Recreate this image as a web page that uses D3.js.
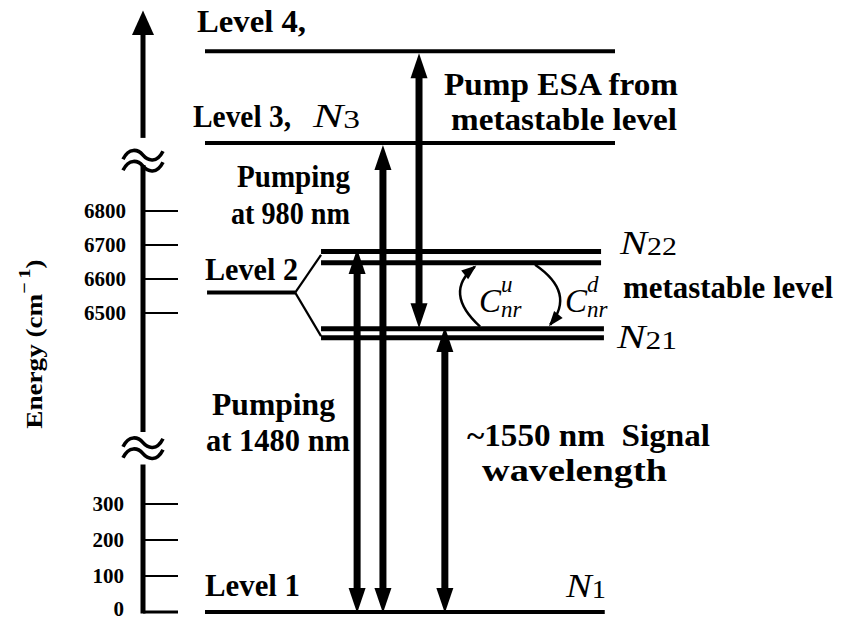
<!DOCTYPE html>
<html>
<head>
<meta charset="utf-8">
<script src="https://cdn.jsdelivr.net/npm/d3@7"></script>
<style>
  body { margin: 0; background: #fff; }
  svg { display: block; }
  text { font-family: "Liberation Serif", "Times New Roman", serif; fill: #000; }
  .bold { font-weight: bold; }
</style>
</head>
<body>
<svg id="chart" width="844" height="620"></svg>
<script>
// energy axis ticks (cm^-1), split by two axis breaks
var upperTicks = [6500, 6600, 6700, 6800];
var lowerTicks = [0, 100, 200, 300];

// levels (level 3 and 4 sit above the break, schematic positions)
var levelNames = ["Level 1", "Level 2", "Level 3", "Level 4"];
var levelEnergy = [0, 6560, 7000, 7270];

// Stark split of level 2
var n22Energy = [6681, 6648];
var n21Energy = [6454, 6427];

// transitions: column (schematic x units), lower and upper tip energies
var transitionNames = ["Pumping at 1480 nm", "Pumping at 980 nm", "Pump ESA", "Signal"];
var transitionCol = [37.1, 43.4, 52.2, 58.5];
var transitionLow = [0, 0, 6455, 0];
var transitionHigh = [6694, 7000, 7270, 6465];

var svg = d3.select("#chart");

var x = d3.scaleLinear().domain([0, 100]).range([205, 615]);
var yUp = d3.scaleLinear().domain([6500, 6800]).range([313, 211]);
var yLow = d3.scaleLinear().domain([0, 300]).range([612, 504]);
function y(e) { return e >= 1000 ? yUp(e) : yLow(e); }

var axisX = 143;

////
//// energy axis with breaks
////
var ax = svg.append("g");

// top segment with arrow
ax.append("line").attr("x1", axisX).attr("x2", axisX)
  .attr("y1", yUp(7330)).attr("y2", yUp(7015))
  .attr("stroke", "#000").attr("stroke-width", 5);
ax.append("path")
  .attr("d", "M" + axisX + "," + yUp(7390) + "L" + (axisX - 11) + "," + yUp(7318) + "L" + (axisX + 11) + "," + yUp(7318) + "Z")
  .attr("fill", "#000");

// middle + lower segments
ax.append("line").attr("x1", axisX).attr("x2", axisX)
  .attr("y1", yUp(6935)).attr("y2", yUp(6150))
  .attr("stroke", "#000").attr("stroke-width", 5);
ax.append("line").attr("x1", axisX).attr("x2", axisX)
  .attr("y1", yLow(410)).attr("y2", yLow(0) + 1.5)
  .attr("stroke", "#000").attr("stroke-width", 5);

// break marks
function tilde(cx, cy) {
  return "M" + (cx - 20) + "," + (cy + 4) +
    "C" + (cx - 14) + "," + (cy - 8) + " " + (cx - 5) + "," + (cy - 6) + " " + cx + "," + cy +
    "C" + (cx + 5) + "," + (cy + 6) + " " + (cx + 14) + "," + (cy + 8) + " " + (cx + 20) + "," + (cy - 4);
}
[yUp(6948), (yUp(6150) + yLow(410)) / 2].forEach(function(cy) {
  ax.append("path").attr("d", tilde(axisX, cy - 5.5) + tilde(axisX, cy + 5.5))
    .attr("fill", "none").attr("stroke", "#000").attr("stroke-width", 3.6);
});

// ticks
var tickLen = 35;
ax.selectAll(".tu").data(upperTicks).enter().append("line")
  .attr("x1", axisX).attr("x2", axisX + tickLen)
  .attr("y1", yUp).attr("y2", yUp)
  .attr("stroke", "#000").attr("stroke-width", 2);
ax.selectAll(".tl").data(lowerTicks).enter().append("line")
  .attr("x1", axisX).attr("x2", axisX + tickLen)
  .attr("y1", yLow).attr("y2", yLow)
  .attr("stroke", "#000").attr("stroke-width", function(d) { return d === 0 ? 3 : 2; });

ax.selectAll(".lu").data(upperTicks).enter().append("text")
  .attr("class", "bold").attr("x", 126).attr("y", yUp).attr("dy", "0.35em")
  .attr("text-anchor", "end").attr("font-size", 21).text(function(d) { return d; });
ax.selectAll(".ll").data(lowerTicks).enter().append("text")
  .attr("class", "bold").attr("x", 124).attr("y", function(d) { return d === 0 ? yLow(d) - 3 : yLow(d); })
  .attr("dy", "0.35em")
  .attr("text-anchor", "end").attr("font-size", 21).text(function(d) { return d; });

var yl = ax.append("text").attr("class", "bold")
  .attr("transform", "translate(42,344) rotate(-90) scale(1.18,1)")
  .attr("text-anchor", "middle").attr("font-size", 23);
yl.append("tspan").text("Energy (cm");
yl.append("tspan").attr("dy", -12).attr("font-size", 17).text("\u2212\u20091");
yl.append("tspan").attr("dy", 12).text(")");

////
//// energy levels
////
var lv = svg.append("g");
function hline(x1, x2, e, w) {
  lv.append("line").attr("x1", x1).attr("x2", x2).attr("y1", y(e)).attr("y2", y(e))
    .attr("stroke", "#000").attr("stroke-width", w);
}
hline(x(0), x(100), levelEnergy[3], 4);
hline(x(0), x(100), levelEnergy[2], 4);
hline(x(0), x(97.5), levelEnergy[0], 4);
hline(x(0.5), x(22), levelEnergy[1], 4);

n22Energy.forEach(function(e) { hline(x(28.3), x(96.6), e, 5); });
n21Energy.forEach(function(e) { hline(x(28.3), x(97.3), e, 5); });

// splitting lines
var split = d3.line();
lv.append("path").attr("d", split([[x(22), y(levelEnergy[1])], [x(28.3), y(n22Energy[0] - 10)]]))
  .attr("stroke", "#000").attr("stroke-width", 2.2).attr("fill", "none");
lv.append("path").attr("d", split([[x(22), y(levelEnergy[1])], [x(28.3), y(n21Energy[1] + 5)]]))
  .attr("stroke", "#000").attr("stroke-width", 2.2).attr("fill", "none");

////
//// transitions (double-headed arrows)
////
var headL = 25, headW = 8.5;
var tr = svg.append("g");
transitionNames.forEach(function(name, i) {
  var cx = x(transitionCol[i]);
  var yb = y(transitionLow[i]) + (transitionLow[i] === 0 ? 1 : 0);
  var yt = y(transitionHigh[i]) + 2;
  tr.append("line").attr("x1", cx).attr("x2", cx)
    .attr("y1", yt + headL - 2).attr("y2", yb - headL + 2)
    .attr("stroke", "#000").attr("stroke-width", 7);
  tr.append("path")
    .attr("d", "M" + cx + "," + yt + "L" + (cx - headW) + "," + (yt + headL) + "L" + (cx + headW) + "," + (yt + headL) + "Z")
    .attr("fill", "#000");
  tr.append("path")
    .attr("d", "M" + cx + "," + yb + "L" + (cx - headW) + "," + (yb - headL) + "L" + (cx + headW) + "," + (yb - headL) + "Z")
    .attr("fill", "#000");
});

// non-radiative curved arrows between N21 and N22
function curved(p0, c, p1) {
  tr.append("path").attr("d", "M" + p0[0] + "," + p0[1] + "Q" + c[0] + "," + c[1] + " " + p1[0] + "," + p1[1])
    .attr("fill", "none").attr("stroke", "#000").attr("stroke-width", 2.5);
  var ang = Math.atan2(p1[1] - c[1], p1[0] - c[0]);
  var L = 13, W = 5.5;
  var bx = p1[0] - L * Math.cos(ang), by = p1[1] - L * Math.sin(ang);
  var nx = -Math.sin(ang) * W, ny = Math.cos(ang) * W;
  tr.append("path")
    .attr("d", "M" + (p1[0] + 2 * Math.cos(ang)) + "," + (p1[1] + 2 * Math.sin(ang)) +
      "L" + (bx + nx) + "," + (by + ny) + "L" + (bx - nx) + "," + (by - ny) + "Z")
    .attr("fill", "#000");
}
curved([x(67.1), y(n21Energy[0]) - 2], [x(58), y(6560)], [x(65.8), y(n22Energy[1]) + 4]);
curved([x(80.5), y(n22Energy[1]) + 2], [x(90.5), y(6560)], [x(84.2), y(n21Energy[0]) - 4]);

////
//// labels (x0..x1 = span of the text)
////
var lb = svg.append("g");
function label(t, x0, x1, py, size) {
  return lb.append("text").attr("class", "bold").attr("x", x0).attr("y", py)
    .attr("font-size", size || 32)
    .attr("textLength", x1 - x0).attr("lengthAdjust", "spacingAndGlyphs").text(t);
}
label("Level 4,", 197, 306, 32);
label("Level 3,", 193, 291, 127);
label("Level 2", 205, 298, 280);
label("Level 1", 205, 300, 596);

label("Pump ESA from", 444, 678, 95);
label("metastable level", 451, 677, 130);
label("Pumping", 237, 350, 187);
label("at 980 nm", 231, 350, 224);
label("Pumping", 212, 335, 415);
label("at 1480 nm", 206, 350, 451);
label("~1550 nm\u00a0\u00a0Signal", 467, 710, 446);
label("wavelength", 482, 667, 481);
label("metastable level", 623, 833, 298);

function nlab(sub, x0, x1, py) {
  var t = lb.append("text").attr("x", x0).attr("y", py)
    .attr("textLength", x1 - x0).attr("lengthAdjust", "spacingAndGlyphs");
  t.append("tspan").attr("font-style", "italic").attr("font-size", 34).text("N");
  t.append("tspan").attr("font-size", 25).attr("dy", 1).text(sub);
}
nlab("3", 313, 360, 127);
nlab("22", 620, 677, 254);
nlab("21", 617, 677, 348);
nlab("1", 566, 606, 597);

function clab(sup, px) {
  var t = lb.append("text").attr("x", px).attr("y", 312).attr("font-style", "italic");
  t.append("tspan").attr("font-size", 33).text("C");
  t.append("tspan").attr("font-size", 23).attr("x", px + 22).attr("y", 292).text(sup);
  t.append("tspan").attr("font-size", 23).attr("x", px + 22).attr("y", 317).text("nr");
}
clab("u", 479);
clab("d", 565);
</script>
</body>
</html>
